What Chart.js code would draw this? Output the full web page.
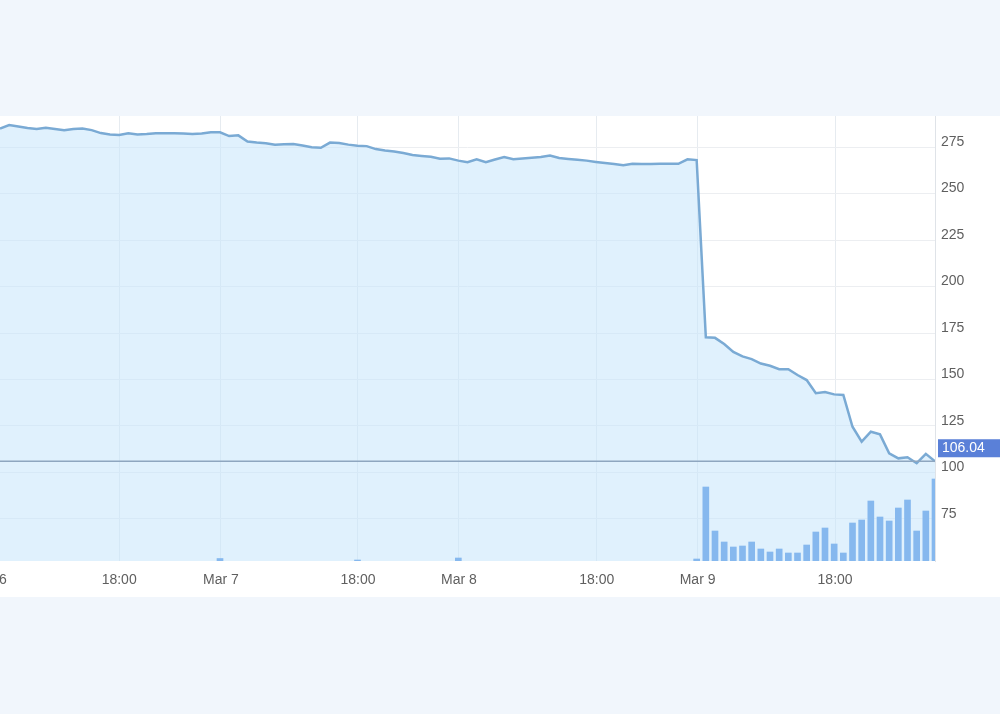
<!DOCTYPE html>
<html>
<head>
<meta charset="utf-8">
<script src="https://cdn.jsdelivr.net/npm/chart.js@4.4.1/dist/chart.umd.min.js"></script>
<style>
  html, body { margin: 0; padding: 0; }
  body { width: 1000px; height: 714px; background: #f1f6fc; overflow: hidden; position: relative; }
  #panel { position: absolute; left: 0; top: 116px; width: 1000px; height: 481px; background: #fff; }
</style>
</head>
<body>
<div id="panel"><canvas id="priceChart" width="1000" height="481"></canvas></div>
<script>
// price samples, one per interval, Mar 6 -> Mar 10
const prices = [
  285, 286.8, 286, 285.2, 284.7, 285.4, 284.7, 284.1, 284.7, 285,
  284.1, 282.5, 281.8, 281.5, 282.4, 281.8, 282, 282.4, 282.4, 282.4,
  282.3, 282, 282.3, 282.9, 282.9, 280.9, 281.3, 278, 277.4, 277,
  276.3, 276.5, 276.6, 275.8, 274.9, 274.6, 277.4, 277.2, 276.3, 275.7,
  275.5, 273.9, 273.1, 272.6, 271.8, 270.7, 270.2, 269.8, 268.7, 268.9,
  267.7, 266.8, 268.4, 266.8, 268.3, 269.6, 268.5, 268.8, 269.2, 269.6,
  270.5, 269.1, 268.6, 268.2, 267.7, 267, 266.4, 265.9, 265.2, 266,
  265.9, 265.9, 266, 266, 266, 268.4, 268, 172.7, 172.4, 169.1,
  164.8, 162.4, 161, 158.6, 157.4, 155.5, 155.5, 152.4, 149.7, 142.6,
  143.3, 142, 141.7, 124.6, 116.6, 121.9, 120.5, 110.3, 107.6, 108.2,
  105, 110, 106.04
];

// volume only where trades happened (sample index -> volume)
const volumeAt = [24, 39, 50, 76, 77, 78, 79, 80, 81, 82, 83, 84, 85, 86, 87, 88, 89,
  90, 91, 92, 93, 94, 95, 96, 97, 98, 99, 100, 101, 102];
const volumes = [25, 10, 30, 20, 740, 300, 190, 140, 150, 190, 120, 90, 120, 80, 80, 160, 290,
  330, 170, 80, 380, 410, 600, 440, 400, 530, 610, 300, 500, 820];

const xTickAt = [-1.2, 13, 24.1, 39.05, 50.07, 65.1, 76.1, 91.1];
const xTickLabels = ["Mar 6", "18:00", "Mar 7", "18:00", "Mar 8", "18:00", "Mar 9", "18:00"];
const yTicks = [75, 100, 125, 150, 175, 200, 225, 250, 275];

const lastPrice = prices[prices.length - 1];
const labelFont = { family: "'Liberation Sans', Arial, sans-serif", size: 14 };

const priceLine = {
  id: "priceLine",
  afterDatasetsDraw(chart) {
    const { ctx, chartArea, scales } = chart;
    const y = scales.y.getPixelForValue(lastPrice);
    ctx.save();
    ctx.strokeStyle = "#8ea6bf";
    ctx.lineWidth = 1.5;
    ctx.beginPath();
    ctx.moveTo(chartArea.left, y);
    ctx.lineTo(chartArea.right, y);
    ctx.stroke();
    ctx.fillStyle = "#5a80d8";
    ctx.fillRect(chartArea.right + 3, y - 22, 62, 18);
    ctx.fillStyle = "#fff";
    ctx.font = "14px 'Liberation Sans', Arial, sans-serif";
    ctx.textBaseline = "middle";
    ctx.fillText(lastPrice.toFixed(2), chartArea.right + 7, y - 13);
    ctx.restore();
  }
};

new Chart(document.getElementById("priceChart"), {
  type: "line",
  data: {
    datasets: [
      {
        type: "bar",
        data: volumeAt.map((x, i) => ({ x: x, y: volumes[i] })),
        yAxisID: "yv",
        backgroundColor: "#86b8ee",
        barThickness: 6,
        order: 0
      },
      {
        data: prices.map((v, i) => ({ x: i, y: v })),
        yAxisID: "y",
        borderColor: "#7aaad4",
        borderWidth: 2.5,
        backgroundColor: "rgba(198, 229, 252, 0.55)",
        fill: "start",
        pointRadius: 0,
        tension: 0,
        order: 1
      }
    ]
  },
  options: {
    responsive: false,
    animation: false,
    devicePixelRatio: 1,
    layout: { padding: 0 },
    plugins: { legend: { display: false }, tooltip: { enabled: false } },
    scales: {
      x: {
        type: "linear",
        min: 0,
        max: 102,
        offset: false,
        afterBuildTicks: s => { s.ticks = xTickAt.map(v => ({ value: v })); },
        afterFit: s => { s.height = 36; s.paddingLeft = 0; s.paddingRight = 0; },
        grid: { color: "#e6ebf0", drawTicks: false, offset: false },
        border: { display: false },
        ticks: {
          autoSkip: false,
          maxRotation: 0,
          padding: 11,
          color: "#5f5f5f",
          font: labelFont,
          callback: (v, i) => xTickLabels[i]
        }
      },
      y: {
        position: "right",
        min: 52.4,
        max: 291.7,
        afterBuildTicks: s => { s.ticks = yTicks.map(v => ({ value: v })); },
        afterFit: s => { s.width = 65; s.paddingTop = 0; s.paddingBottom = 0; },
        grid: { color: "#eceef1", drawTicks: false },
        border: { color: "#dfe3e8" },
        ticks: {
          padding: 6,
          labelOffset: -5,
          color: "#5f5f5f",
          font: labelFont
        }
      },
      yv: {
        display: false,
        min: 0,
        max: 4450
      }
    }
  },
  plugins: [priceLine]
});
</script>
</body>
</html>
